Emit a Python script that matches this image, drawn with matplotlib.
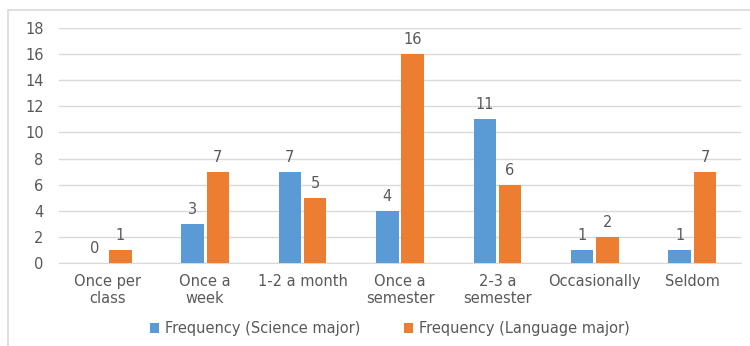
import numpy as np
import matplotlib
matplotlib.use("Agg")
import matplotlib.pyplot as plt
from matplotlib.patches import Rectangle

categories = ["Once per\nclass", "Once a\nweek", "1-2 a month", "Once a\nsemester",
              "2-3 a\nsemester", "Occasionally", "Seldom"]
science = [0, 3, 7, 4, 11, 1, 1]
language = [1, 7, 5, 16, 6, 2, 7]

BLUE = "#5B9BD5"
ORANGE = "#ED7D31"
TEXT = "#595959"
GRID = "#D9D9D9"

plt.rcParams["font.family"] = ["DejaVu Sans"]

fig = plt.figure(figsize=(7.5, 3.46), dpi=100)
ax = fig.add_axes([0.0787, 0.2399, 0.9093, 0.6792])

x = np.arange(len(categories))
w = 0.23
gap = 0.03
b1 = ax.bar(x - (w + gap) / 2, science, w, color=BLUE, label="Frequency (Science major)", zorder=3)
b2 = ax.bar(x + (w + gap) / 2, language, w, color=ORANGE, label="Frequency (Language major)", zorder=3)

for bars in (b1, b2):
    ax.bar_label(bars, padding=5, color=TEXT, fontsize=10.5)

ax.set_xlim(-0.5, len(categories) - 0.5)
ax.set_ylim(0, 18)
ax.set_yticks(range(0, 19, 2))
ax.set_xticks(x)
ax.set_xticklabels(categories, linespacing=1.15)
ax.tick_params(axis="both", length=0, colors=TEXT, labelsize=10.5)
ax.tick_params(axis="y", pad=11)
ax.tick_params(axis="x", pad=8)
ax.grid(axis="y", color=GRID, linewidth=1, zorder=0)
for side in ("top", "right", "left"):
    ax.spines[side].set_visible(False)
ax.spines["bottom"].set_color(GRID)

leg = fig.legend(loc="center", bbox_to_anchor=(0.52, 0.05), ncol=2, frameon=False,
                 fontsize=10.5, handlelength=0.6, handleheight=0.6, columnspacing=3.0,
                 handletextpad=0.4)
for t in leg.get_texts():
    t.set_color(TEXT)

# outer chart frame
fig.patches.append(Rectangle((8 / 750, -0.05), 1.1, 1 - 10 / 346 + 0.05,
                             transform=fig.transFigure, fill=False,
                             edgecolor="#D9D9D9", linewidth=1.2))

fig.savefig("out.png", dpi=100)
